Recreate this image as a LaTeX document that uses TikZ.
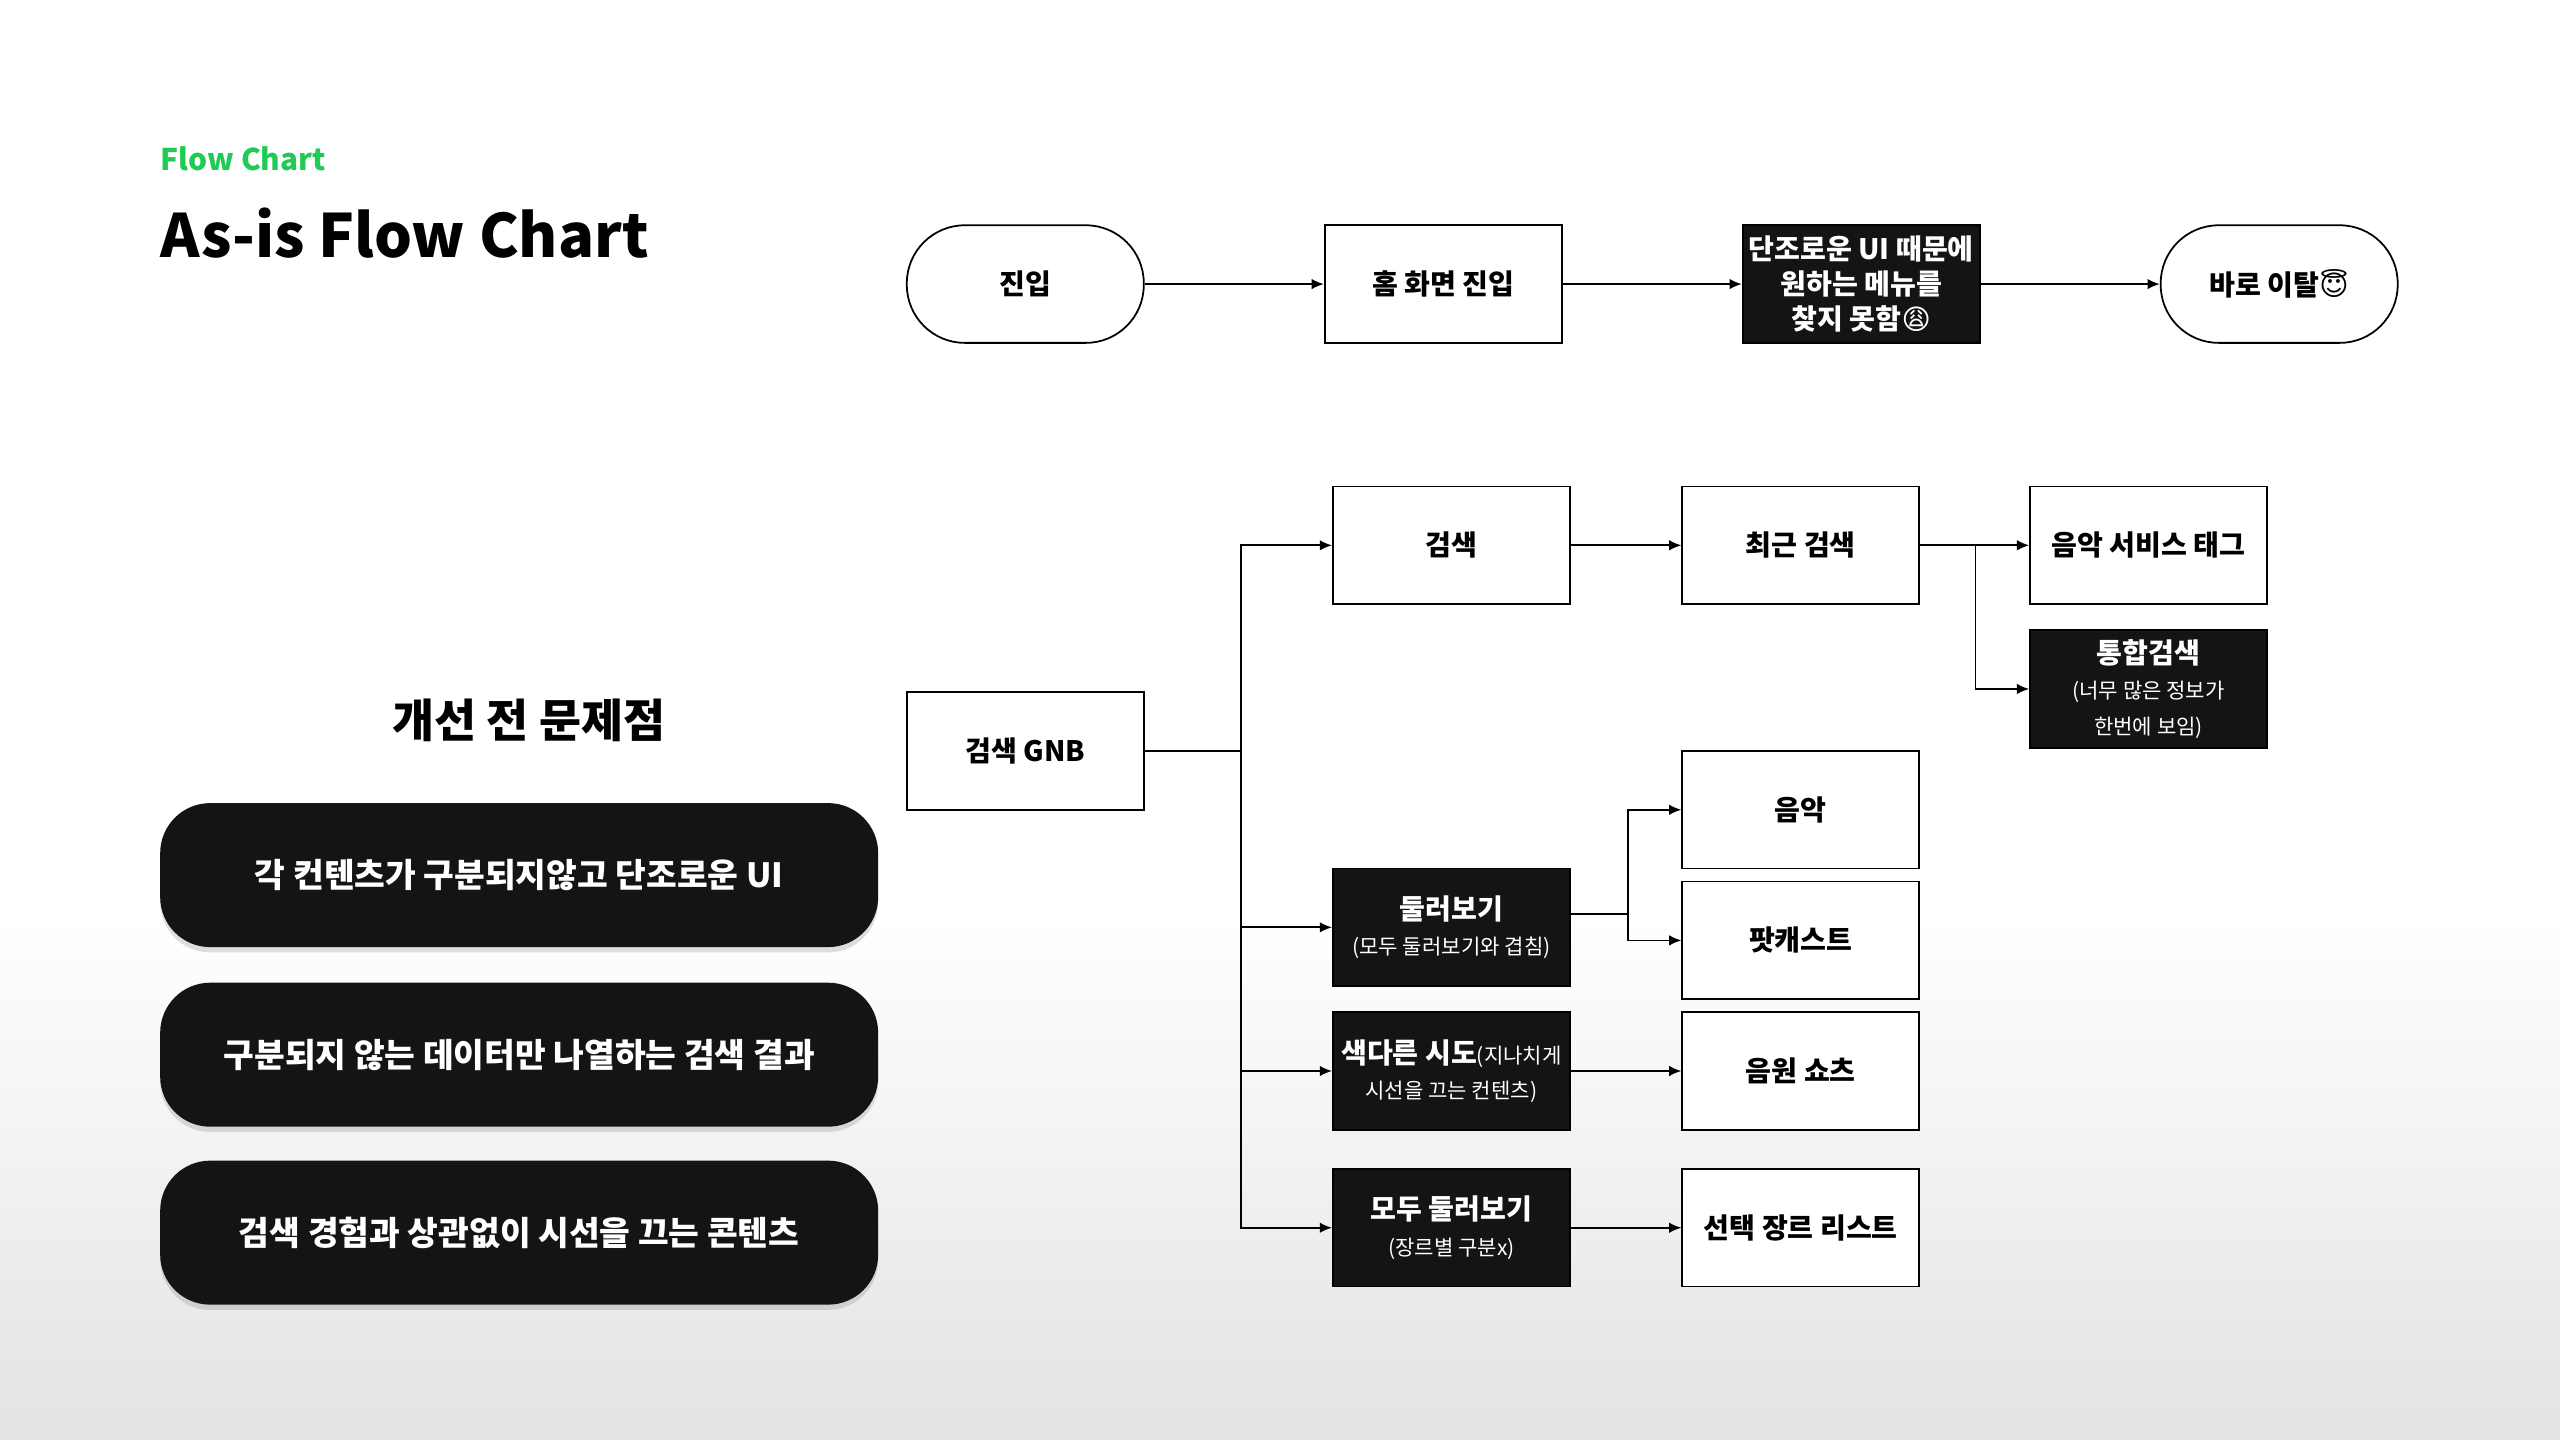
\documentclass[tikz,border=0pt]{standalone}
\usepackage{fontspec}
\setmainfont{Noto Sans CJK KR}
\newfontfamily\emoji{DejaVu Sans}
\usetikzlibrary{arrows.meta,shapes,positioning,shadows}
\definecolor{boxblack}{HTML}{141414}
\definecolor{flowgreen}{HTML}{1FCB55}
\newcommand{\subtxt}{\fontsize{6}{8}\selectfont\mdseries}
\tikzset{
    stepbox/.style={
    rectangle,draw=black,line width=0.5pt,fill=white,minimum width=2.37cm,minimum height=1.176cm,
    font=\fontsize{8}{10}\selectfont\bfseries,align=center,inner sep=1pt
    },
    darkbox/.style={
    stepbox,fill=boxblack,text=white
    },
    pill/.style={
    stepbox,rounded corners=0.58cm
    },
    issue/.style={
    rectangle,rounded corners=0.5cm,fill=boxblack,text=white,minimum width=7.18cm,minimum height=1.44cm,
    font=\fontsize{9.5}{11}\selectfont\bfseries,drop shadow={shadow xshift=0pt,shadow yshift=-1.5pt,opacity=0.25}
    },
    arr/.style={
    line width=0.5pt,-{Latex[length=3.5pt,width=3pt]}
    },
}
\begin{document}
\begin{tikzpicture}[x=0.01633cm,y=-0.01633cm]
  \fill[white] (0,0) rectangle (1568,560);
  \shade[top color=white,bottom color=white!89!black] (0,560) rectangle (1568,882);
  \useasboundingbox (0,0) rectangle (1568,882);

  % titles
  \node[anchor=west,text=flowgreen,font=\fontsize{8.5}{10}\selectfont\bfseries,inner sep=0] (tag) at (98,97) {Flow Chart};
  \node[anchor=west,font=\fontsize{17}{20}\selectfont\bfseries,inner sep=0] (title) at (98,143) {As-is Flow Chart};

  % top flow
  \node[pill] (enter) at (628,174) {진입};
  \node[stepbox] (home) at (884,174) {홈 화면 진입};
  \node[darkbox] (fail) at (1140,174) {단조로운 UI 때문에\\원하는 메뉴를\\찾지 못함{\emoji 😩}};
  \node[pill] (leave) at (1396,174) {바로 이탈{\emoji 😇}};

  % search flow
  \node[stepbox] (gnb) at (628,460) {검색 GNB};
  \node[stepbox] (search) at (889,334) {검색};
  \node[stepbox] (recent) at (1103,334) {최근 검색};
  \node[stepbox] (mtag) at (1316,334) {음악 서비스 태그};
  \node[darkbox] (total) at (1316,422) {통합검색\\{\subtxt (너무 많은 정보가}\\{\subtxt 한번에 보임)}};
  \node[darkbox] (browse) at (889,568) {둘러보기\\{\subtxt (모두 둘러보기와 겹침)}};
  \node[stepbox] (music) at (1103,496) {음악};
  \node[stepbox] (podcast) at (1103,576) {팟캐스트};
  \node[darkbox] (novel) at (889,656) {색다른 시도{\subtxt (지나치게}\\{\subtxt 시선을 끄는 컨텐츠)}};
  \node[stepbox] (shorts) at (1103,656) {음원 쇼츠};
  \node[darkbox] (all) at (889,752) {모두 둘러보기\\{\subtxt (장르별 구분x)}};
  \node[stepbox] (genre) at (1103,752) {선택 장르 리스트};

  \coordinate (trunk) at (760,460);
  \coordinate (rsplit) at (1210,334);
  \coordinate (bsplit) at (997,560);

  \draw[arr] (enter) -- (home);
  \draw[arr] (home) -- (fail);
  \draw[arr] (fail) -- (leave);
  \draw[line width=0.5pt] (gnb) -- (trunk);
  \draw[arr] (trunk) |- (search.west);
  \draw[arr] (trunk) |- (browse.west);
  \draw[arr] (trunk) |- (novel.west);
  \draw[arr] (trunk) |- (all.west);
  \draw[arr] (search) -- (recent);
  \draw[arr] (recent) -- (mtag);
  \draw[arr] (rsplit) |- (total.west);
  \draw[line width=0.5pt] (browse.east |- bsplit) -- (bsplit);
  \draw[arr] (bsplit) |- (music.west);
  \draw[arr] (bsplit) |- (podcast.west);
  \draw[arr] (novel) -- (shorts);
  \draw[arr] (all) -- (genre);

  % issues
  \node[font=\fontsize{13}{15}\selectfont\bfseries] (issues) at (324,441) {개선 전 문제점};
  \node[issue] (iss1) at (318,536) {각 컨텐츠가 구분되지않고 단조로운 UI};
  \node[issue] (iss2) at (318,646) {구분되지 않는 데이터만 나열하는 검색 결과};
  \node[issue] (iss3) at (318,755) {검색 경험과 상관없이 시선을 끄는 콘텐츠};
\end{tikzpicture}
\end{document}
